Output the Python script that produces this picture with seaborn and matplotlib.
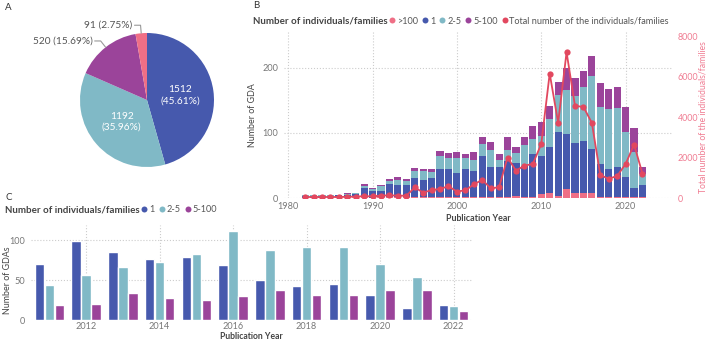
import matplotlib
matplotlib.use("Agg")
import numpy as np
import pandas as pd
import matplotlib.pyplot as plt
import seaborn as sns
from matplotlib.lines import Line2D

# ---------------- data ----------------
years = list(range(1982, 2023))
gda_gt100 = [0, 0, 0, 0, 1, 1, 1,
             1, 0, 1, 1, 1, 1, 1, 1, 1, 1, 1, 1, 1, 1, 1, 1, 1,
             2, 3, 2, 2, 6,
             8, 3, 14, 8, 8, 7, 2, 2, 2, 1, 1, 1]
gda_1 = [3, 3, 3, 3, 3, 4, 5,
         15, 11, 9, 21, 19, 19, 29, 26, 29, 44, 44, 38, 44, 40, 63, 46, 46,
         55, 51, 47, 65, 59,
         70, 99, 85, 76, 79, 69, 50, 43, 45, 31, 15, 19]
gda_2_5 = [1, 1, 1, 1, 1, 1, 1,
           3, 3, 8, 4, 7, 6, 11, 14, 10, 19, 16, 22, 17, 18, 19, 27, 12,
           16, 15, 32, 23, 31,
           44, 56, 67, 73, 83, 112, 88, 91, 92, 70, 54, 17]
gda_5_100 = [0, 0, 0, 0, 0, 1, 1,
             2, 1, 2, 3, 6, 3, 5, 3, 5, 8, 8, 9, 5, 11, 11, 12, 8,
             20, 9, 12, 20, 20,
             19, 20, 34, 28, 25, 30, 37, 31, 31, 38, 38, 11]
total_individuals = [50, 50, 50, 50, 50, 60, 70,
                     90, 80, 120, 130, 120, 110, 520, 270, 390, 450, 580, 320, 380, 670, 900, 480, 530,
                     2000, 1350, 1600, 1680, 2670,
                     6150, 3720, 7200, 4550, 4500, 3710, 1130, 950, 1090, 1680, 2640, 1200]

pie_labels = ["1", "2-5", "5-100", ">100"]
pie_values = [1512, 1192, 520, 91]

c_start = 2011
legend_title = "Number of individuals/families"

# ---------------- style ----------------
sns.set_theme(style="white")
plt.rcParams["font.family"] = ["Lato", "DejaVu Sans"]

BLUE = "#4659AD"
CYAN = "#80B9C6"
PURPLE = "#9B449A"
PINK = "#EF6F86"
RED = "#E2485F"
RAXIS = "#F07C92"
TICK = "#777777"
DARK = "#444444"
GRID = "#cccccc"

TICK_FS = 6.6
LAB_FS = 6.4

W, H = 708, 341
fig = plt.figure(figsize=(W / 100, H / 100), dpi=100)


def axes_px(l, t, r, b):
    return fig.add_axes([l / W, 1 - b / H, (r - l) / W, (b - t) / H])


def fig_text(x_px, y_px, s, **kw):
    return fig.text(x_px / W, 1 - y_px / H, s, **kw)


def clean(ax):
    for s in ax.spines.values():
        s.set_visible(False)
    ax.tick_params(length=0, labelsize=TICK_FS, colors=TICK)


def inline_legend(x_px, y_px, labels, colors):
    t = fig_text(x_px, y_px, legend_title, fontsize=7, fontweight="bold",
                 color=DARK, va="center", ha="left")
    fig.canvas.draw()
    bb = t.get_window_extent()
    handles = [Line2D([], [], marker="o", linestyle="none", markersize=4.3,
                      markerfacecolor=c, markeredgewidth=0) for c in colors]
    leg = fig.legend(handles, labels, loc="center left",
                     bbox_to_anchor=((bb.x1 + 2) / W, 1 - y_px / H),
                     bbox_transform=fig.transFigure, ncol=len(labels), frameon=False,
                     fontsize=6.6, handlelength=0.6, handletextpad=0.2,
                     columnspacing=0.5, borderpad=0, borderaxespad=0)
    for tx in leg.get_texts():
        tx.set_color("#555555")


# ---------------- panel A ----------------
axA = axes_px(80, 33, 214, 167)
wedges, _ = axA.pie(pie_values, colors=[BLUE, CYAN, PURPLE, PINK], startangle=90,
                    counterclock=False, radius=1, wedgeprops=dict(linewidth=0))
axA.set_xlim(-1, 1)
axA.set_ylim(-1, 1)
axA.set_aspect("equal")
tot = sum(pie_values)
for w, v in zip(wedges, pie_values):
    ang = np.deg2rad((w.theta1 + w.theta2) / 2)
    pct = v / tot * 100
    ca, sa = np.cos(ang), np.sin(ang)
    if pct > 20:
        axA.text(0.5 * ca, 0.5 * sa, f"{v}\n({pct:.2f}%)", ha="center", va="center",
                 color="white", fontsize=7.3, linespacing=1.3)
    else:
        ex, ey = 1.0 * ca, 1.0 * sa
        kx, ky = 1.12 * ca, 1.12 * sa
        endx = kx - 0.09
        axA.plot([ex, kx, endx], [ey, ky, ky], color="#999999", lw=0.8, clip_on=False)
        axA.text(endx - 0.03, ky, f"{v} ({pct:.2f}%)", ha="right", va="center",
                 color="#555555", fontsize=7.3)

fig_text(5, 8, "A", fontsize=7, color="#333333", va="center")

# ---------------- panel B ----------------
axB = axes_px(284, 32, 672, 198)
dfB = pd.DataFrame({"year": years, "gt100": gda_gt100, "n1": gda_1,
                    "n25": gda_2_5, "n5100": gda_5_100, "total": total_individuals})
dfB["c1"] = dfB["gt100"] + dfB["n1"]
dfB["c2"] = dfB["c1"] + dfB["n25"]
dfB["c3"] = dfB["c2"] + dfB["n5100"]
for col, colr in [("c3", PURPLE), ("c2", CYAN), ("c1", BLUE), ("gt100", PINK)]:
    sns.barplot(data=dfB, x="year", y=col, color=colr, native_scale=True, width=0.85,
                saturation=1, errorbar=None, linewidth=0, ax=axB)
axB.set_xlim(1979.5, 2025.5)
axB.set_ylim(0, 255)
axB.set_yticks([0, 100, 200])
axB.set_xticks([1980, 1990, 2000, 2010, 2020])
axB.grid(True, linestyle=":", color=GRID, linewidth=0.8)
axB.set_axisbelow(True)
clean(axB)
axB.tick_params(axis="y", pad=4)
axB.tick_params(axis="x", pad=3)
axB.set_ylabel("Number of GDA", fontsize=LAB_FS, color=DARK, labelpad=4)
axB.set_xlabel("Publication Year", fontsize=LAB_FS, color=DARK, fontweight="bold", labelpad=2)

ax2 = axB.twinx()
sns.lineplot(data=dfB, x="year", y="total", ax=ax2, color=RED, marker="o", markersize=4.5,
             markeredgewidth=0, linewidth=1.3)
ax2.set_ylim(0, 8200)
ax2.set_yticks([0, 2000, 4000, 6000, 8000])
clean(ax2)
ax2.tick_params(axis="y", colors=RAXIS, pad=4, labelsize=6.4)
ax2.set_ylabel("")
ax2.set_xlabel("")
ax2.set_xlim(1979.5, 2025.5)
fig_text(703.5, 117, "Total number of the individuals/families", fontsize=6.2, color=RAXIS,
         rotation=90, ha="center", va="center")

fig_text(253, 6, "B", fontsize=7, color="#333333", va="center")
inline_legend(253, 21, [">100", "1", "2-5", "5-100", "Total number of the individuals/families"],
              [PINK, BLUE, CYAN, PURPLE, RED])

# ---------------- panel C ----------------
idx = years.index(c_start)
c_years = [str(y) for y in years[idx:]]
dfC = pd.concat([
    pd.DataFrame({"year": c_years, "value": gda_1[idx:], "group": "1"}),
    pd.DataFrame({"year": c_years, "value": gda_2_5[idx:], "group": "2-5"}),
    pd.DataFrame({"year": c_years, "value": gda_5_100[idx:], "group": "5-100"}),
])
axC = axes_px(31, 225, 472, 320)
sns.barplot(data=dfC, x="year", y="value", hue="group", hue_order=["1", "2-5", "5-100"],
            palette=[BLUE, CYAN, PURPLE], saturation=1, width=0.82, gap=0.04,
            errorbar=None, legend=False, ax=axC)
axC.set_xlim(-0.5, len(c_years) - 0.5)
axC.set_ylim(0, 119)
axC.set_yticks([0, 50, 100])
tick_pos = list(range(1, len(c_years), 2))
axC.set_xticks(tick_pos)
axC.set_xticklabels([c_years[i] for i in tick_pos])
axC.grid(True, linestyle=":", color=GRID, linewidth=0.8)
axC.set_axisbelow(True)
clean(axC)
axC.tick_params(axis="y", pad=4)
axC.tick_params(axis="x", pad=1.5)
axC.set_ylabel("")
axC.set_xlabel("")
fig_text(7.5, 280, "Number of GDAs", fontsize=LAB_FS, color=DARK, rotation=90,
         ha="center", va="center")
fig_text(251, 336.5, "Publication Year", fontsize=6.2, color=DARK, fontweight="bold",
         ha="center", va="center")

fig_text(5, 197, "C", fontsize=7, color="#333333", va="center")
inline_legend(5, 210, ["1", "2-5", "5-100"], [BLUE, CYAN, PURPLE])

fig.savefig("out.png", dpi=100)
